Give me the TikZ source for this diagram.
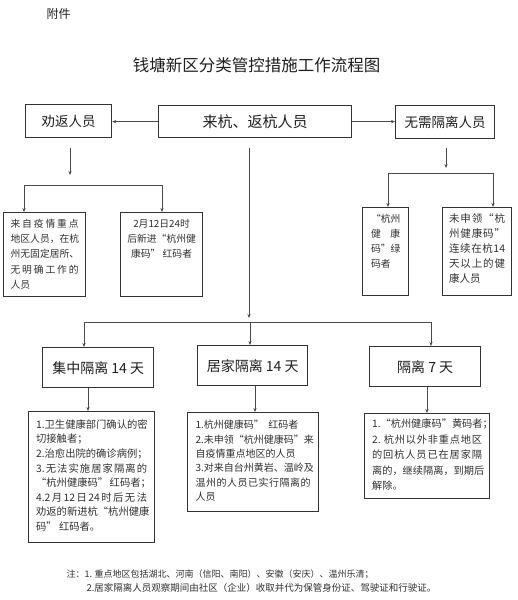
\documentclass[tikz,border=0pt]{standalone}
\usepackage{fontspec}
\setmainfont{Noto Sans CJK SC}
\usetikzlibrary{arrows.meta}
\definecolor{linec}{HTML}{4A4A4A}
\definecolor{boxc}{HTML}{333333}
\definecolor{headc}{HTML}{1E1E1E}
\definecolor{bodyc}{HTML}{303030}
\def\spB#1{#1\spC}
\def\spC#1{\ifx\relax#1\else\hfil#1\expandafter\spC\fi}
\newcommand\SL[1]{\hbox to\hsize{\spB#1\relax}}
\newcommand\LL[1]{\hbox to\hsize{#1\hfil}}
\newcommand\CL[1]{\hbox to\hsize{\hfil#1\hfil}}
\newcommand\btx[6]{\parbox[c][#2][t]{#1}{\vspace*{#5}\fontsize{#3}{#4}\selectfont #6}}
\begin{document}
\begin{tikzpicture}[x=1pt,y=-1pt,
  hbox/.style={draw=boxc, line width=1.2pt, inner sep=0pt, anchor=north west, text=headc},
  tbox/.style={draw=boxc, line width=1.2pt, inner sep=0pt, anchor=north west, text=bodyc},
  ln/.style={draw=linec, line width=0.8pt},
  arr/.style={ln, -{Stealth[length=4pt,width=3.2pt]}}]
\useasboundingbox (0,0) rectangle (518,600);
% headings
\node[anchor=west, text=headc, font=\fontsize{12}{14}\selectfont] (fj) at (43,14) {附件};
\node[text=headc, font=\fontsize{16.5}{20}\selectfont] (title) at (256.5,65) {钱塘新区分类管控措施工作流程图};
% top row
\node[hbox, minimum width=86pt, minimum height=33pt, font=\fontsize{13.5}{16}\selectfont] (quan) at (25,104) {劝返人员};
\node[hbox, minimum width=193pt, minimum height=32pt, font=\fontsize{15}{18}\selectfont] (lai) at (158,105) {来杭、返杭人员};
\node[hbox, minimum width=99pt, minimum height=33pt, font=\fontsize{13.5}{16}\selectfont] (wu) at (395,105) {无需隔离人员};
\draw[arr] (lai.west) -- (lai.west -| quan.east);
\draw[arr] (lai.east) -- (lai.east -| wu.west);
% second row (left and right groups)
\node[tbox, minimum width=82pt, minimum height=84pt] (a1) at (3,212)
  {\btx{68pt}{84pt}{9.8}{15.3}{6.5pt}{\SL{来自疫情重点}\SL{地区人员，在杭}\SL{州无固定居所、}\SL{无明确工作的}\LL{人员}}};
\node[tbox, minimum width=82pt, minimum height=84pt] (a2) at (120,212)
  {\btx{70pt}{84pt}{9.8}{15.3}{6.5pt}{\CL{2月12日24时}\CL{后新进“杭州健}\CL{康码”\ 红码者}}};
\node[tbox, minimum width=46pt, minimum height=88pt] (a3) at (362,207)
  {\btx{29pt}{88pt}{9.8}{15}{6.6pt}{\SL{“杭州}\SL{健康}\SL{码”绿}\LL{码者}}};
\node[tbox, minimum width=69pt, minimum height=88pt] (a4) at (442,207)
  {\btx{56pt}{88pt}{10.5}{15}{6.3pt}{\SL{未申领“杭}\SL{州健康码”}\SL{连续在杭{14}}\SL{天以上的健}\LL{康人员}}};
% left branch
\coordinate (q0) at (70,148);
\coordinate (q1) at (70,175);
\coordinate (qa) at (24,185);
\coordinate (qb) at (162,185);
\draw[arr] (q0) -- (q1);
\draw[ln] (qa) -- (qb);
\draw[arr] (qa) -- (qa |- a1.north);
\draw[arr] (qb) -- (qb |- a2.north);
% right branch
\coordinate (r0) at (446,148);
\coordinate (r1) at (446,168);
\coordinate (ra) at (388,173);
\coordinate (rb) at (493,173);
\draw[arr] (r0) -- (r1);
\draw[ln] (ra) -- (rb);
\draw[arr] (ra) -- (ra |- a3.north);
\draw[arr] (rb) -- (rb |- a4.north);
% measure boxes
\node[hbox, line width=1.4pt, minimum width=111pt, minimum height=40pt, font=\fontsize{14}{17}\selectfont] (jz) at (42,347) {集中隔离 14 天};
\node[hbox, line width=1.4pt, minimum width=110pt, minimum height=40pt, font=\fontsize{14}{17}\selectfont] (jj) at (197,345) {居家隔离 14 天};
\node[hbox, line width=1.4pt, minimum width=111pt, minimum height=40pt, font=\fontsize{14}{17}\selectfont] (gl) at (369,346) {隔离 7 天};
% middle branch
\coordinate (m0) at (249,148);
\coordinate (m1) at (249,318);
\coordinate (ha) at (84,322);
\coordinate (hb) at (250,322);
\coordinate (hc) at (431,322);
\draw[arr] (m0) -- (m1);
\draw[ln] (ha) -- (hc);
\draw[arr] (ha) -- (ha |- jz.north);
\draw[arr] (hb) -- (hb |- jj.north);
\draw[arr] (hc) -- (hc |- gl.north);
% detail boxes
\node[tbox, minimum width=126pt, minimum height=131pt] (c1) at (28,411)
  {\btx{111pt}{131pt}{10.3}{14.6}{8pt}{\SL{{1.}卫生健康部门确认的密}\LL{切接触者；}\SL{{2.}治愈出院的确诊病例；}\SL{{3.}无法实施居家隔离的}\CL{“杭州健康码”\ 红码者；}\SL{{4.2}月{12}日{24}时后无法}\SL{劝返的新进杭“杭州健康}\LL{码”\ 红码者。}}};
\node[tbox, minimum width=131pt, minimum height=99pt] (c2) at (187,412)
  {\btx{115pt}{99pt}{10}{14.4}{7.5pt}{\LL{1.杭州健康码”\ \ 红码者}\SL{{2.}未申领“杭州健康码”来}\LL{自疫情重点地区的人员}\SL{{3.}对来自台州黄岩、温岭及}\SL{温州的人员已实行隔离的}\LL{人员}}};
\node[tbox, minimum width=125pt, minimum height=85pt] (c3) at (364,413)
  {\btx{110pt}{85pt}{10.2}{15.5}{5.5pt}{\SL{{1.}“杭州健康码”黄码者；}\SL{{2.}{\,}杭州以外非重点地区}\SL{的回杭人员已在居家隔}\SL{离的，继续隔离，到期后}\LL{解除。}}};
\coordinate (d1) at (88,0);
\coordinate (d2) at (255,0);
\coordinate (d3) at (427,0);
\draw[arr] (d1 |- jz.south) -- (d1 |- c1.north);
\draw[arr] (d2 |- jj.south) -- (d2 |- c2.north);
\draw[arr] (d3 |- gl.south) -- (d3 |- c3.north);
% notes
\node[anchor=west, text=bodyc, font=\fontsize{9}{11}\selectfont] (n1) at (63,574) {注：1. 重点地区包括湖北、河南（信阳、南阳）、安徽（安庆）、温州乐清；};
\node[anchor=west, text=bodyc, font=\fontsize{9.5}{11}\selectfont] (n2) at (83,588) {2.居家隔离人员观察期间由社区（企业）收取并代为保管身份证、驾驶证和行驶证。};
\end{tikzpicture}
\end{document}
